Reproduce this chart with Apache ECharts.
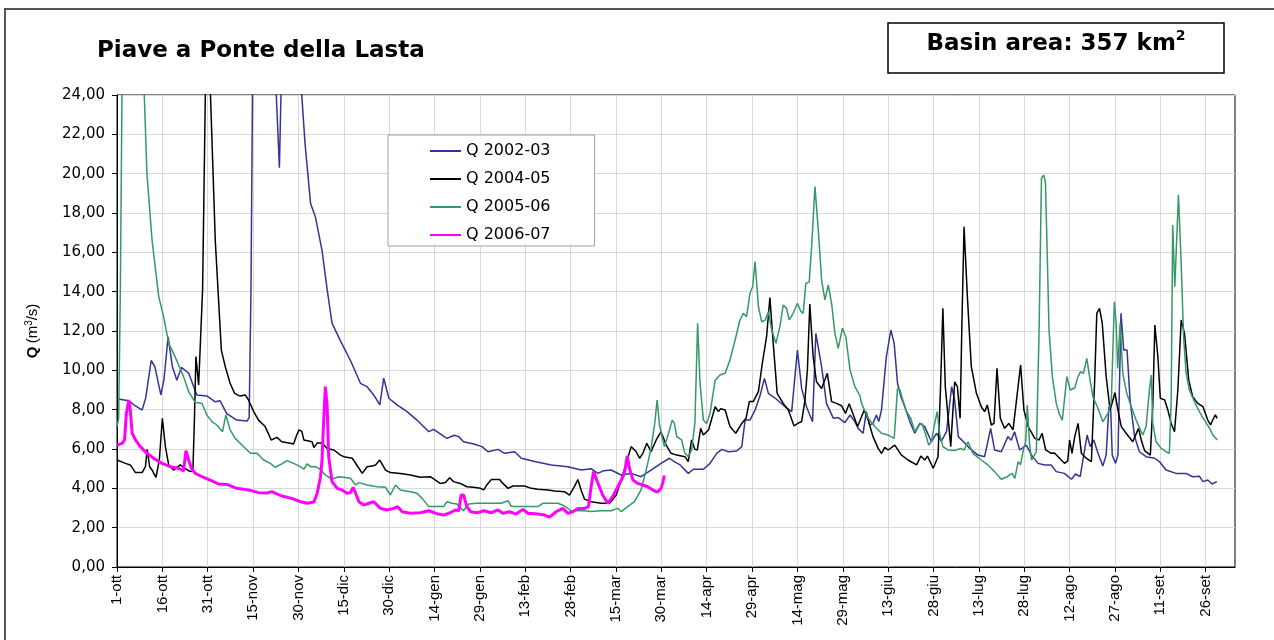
<!DOCTYPE html>
<html>
<head>
<meta charset="utf-8">
<title>Piave a Ponte della Lasta</title>
<script src="https://cdn.jsdelivr.net/npm/echarts@6/dist/echarts.min.js"></script>
<style>
  html, body { margin: 0; padding: 0; background: #fff; }
  #chart { width: 1274px; height: 640px; }
</style>
</head>
<body>
<div id="chart"></div>
<script>
// etichette asse x: una ogni 15 giorni a partire dal 1-ott (giorno 0)
const tickLabels = ['1-ott', '16-ott', '31-ott', '15-nov', '30-nov', '15-dic', '30-dic',
  '14-gen', '29-gen', '13-feb', '28-feb', '15-mar', '30-mar', '14-apr', '29-apr',
  '14-mag', '29-mag', '13-giu', '28-giu', '13-lug', '28-lug', '12-ago', '27-ago',
  '11-set', '26-set'];
const tickDays = tickLabels.map((_, i) => i * 15);
const seriesNames = ['Q 2002-03', 'Q 2004-05', 'Q 2005-06', 'Q 2006-07'];

// [giorno dal 1-ott, Q (m3/s)]
const q0203 = [[0,8.55],[3.9,8.45],[6,8.2],[8.3,7.98],[9.5,8.6],[11.3,10.5],[12.5,10.2],[14.5,8.75],[15.5,9.5],[16.9,11.7],[18.3,10.2],[19.8,9.5],[21.3,10.15],[23.7,9.85],[26.4,8.75],[29.7,8.7],[32.5,8.4],[34.1,8.45],[36.3,7.8],[39.6,7.47],[43,7.42],[43.7,7.6],[44.3,14],[44.9,26],[47,38],[50,32],[52.4,25],[53.7,20.3],[54.5,26],[57,32],[60,26],[61,24.2],[62.2,21.5],[64,18.5],[65.6,17.8],[67.8,16.1],[69.5,14.1],[71.1,12.4],[73.9,11.5],[77.2,10.5],[80.5,9.34],[82.7,9.17],[84.9,8.75],[86.9,8.24],[88.2,9.6],[89.9,8.58],[92.6,8.24],[95.9,7.9],[99.2,7.47],[103.1,6.88],[104.7,7.0],[109.1,6.54],[111.5,6.7],[113,6.63],[114.6,6.37],[118,6.25],[120.7,6.12],[122.7,5.86],[126,5.98],[128.2,5.78],[131.5,5.86],[133.7,5.53],[138.1,5.36],[143.6,5.19],[149.1,5.1],[153.5,4.93],[156.8,5.0],[159,4.76],[161,4.9],[163.4,4.93],[166.7,4.68],[170,4.76],[173.3,4.59],[176.6,4.93],[179.9,5.27],[182.7,5.53],[184.3,5.36],[186.2,5.19],[188.9,4.76],[190.6,4.97],[193.9,4.97],[196.1,5.27],[198.3,5.78],[200,5.98],[202.2,5.86],[204.9,5.9],[206.6,6.12],[207.7,7.47],[209.3,7.47],[211,7.98],[212.6,8.69],[214.1,9.59],[215.4,8.83],[218.1,8.53],[220.9,8.15],[223.1,7.9],[225,11.03],[226.4,9.08],[228,8.15],[230,7.39],[231.1,11.88],[233,10.19],[234.6,8.32],[236.9,7.56],[238.5,7.6],[240.7,7.34],[242.4,7.73],[244,7.39],[245.1,7.05],[246.7,6.8],[247.8,7.9],[248.9,7.22],[250,7.3],[251.1,7.73],[251.9,7.4],[252.8,7.98],[254.4,10.69],[255.9,12.05],[257,11.37],[258.1,9.34],[259.4,8.58],[260.5,8.15],[262.2,7.39],[263.8,6.8],[265.5,7.3],[267.1,7.14],[269.3,6.37],[271,6.8],[272.6,6.4],[274.3,6.88],[276,9.17],[277,8.49],[278.2,6.63],[280.4,6.29],[282,6.03],[284.7,5.69],[286.9,5.61],[288.9,7.05],[290.2,5.95],[292.4,5.86],[294.6,6.63],[295.7,6.45],[296.8,6.88],[298.5,5.95],[300.7,6.2],[302.4,5.69],[304.6,5.27],[306.8,5.19],[308.9,5.19],[310.6,4.85],[313.3,4.76],[315.6,4.46],[317,4.73],[318.5,4.6],[319.6,5.61],[320.8,6.71],[321.8,6.12],[323,6.46],[324.4,5.78],[326,5.14],[327.1,5.69],[328,8.15],[328.6,8.0],[329.1,5.7],[330.2,5.27],[331,5.7],[332,12.9],[332.9,11.03],[334,11.03],[335,8.49],[336.5,6.63],[338.1,5.86],[340.3,5.61],[343.1,5.53],[344.7,5.36],[346.9,4.93],[350.2,4.76],[353.5,4.76],[355.7,4.59],[357.9,4.62],[359.1,4.34],[360.7,4.42],[362.1,4.22],[363.7,4.34]];

const q0405 = [[0,5.44],[2.8,5.27],[4.4,5.19],[6.1,4.8],[8.3,4.8],[9.4,5.1],[10,5.98],[10.8,5.1],[11.6,4.93],[12.9,4.56],[14,5.44],[15,7.56],[16,6.12],[17.1,5.19],[18.7,4.93],[20.9,5.19],[22.6,5.0],[24.2,4.85],[25.1,4.9],[25.6,7.5],[26.1,10.7],[27,9.25],[28.3,14.1],[29.3,25],[30,32],[30.7,25],[32.5,16.6],[34.5,11.03],[35.8,10.19],[37.4,9.34],[38.9,8.83],[40.7,8.69],[42.4,8.75],[43.5,8.49],[45.2,7.9],[46.8,7.47],[49,7.14],[51,6.46],[52.9,6.59],[54.5,6.37],[57.3,6.29],[58.4,6.25],[59.4,6.7],[60.2,6.97],[61.1,6.9],[61.8,6.46],[64.5,6.37],[65.1,6.08],[66.2,6.3],[67.8,6.3],[69.5,6.03],[71.7,5.95],[73.9,5.69],[75,5.61],[77.8,5.53],[80,5.02],[81.1,4.76],[82.7,5.1],[84.4,5.13],[85.5,5.19],[86.9,5.44],[88.8,4.93],[90.4,4.8],[93.7,4.76],[97,4.68],[100.3,4.56],[103.6,4.59],[105.3,4.42],[106.9,4.25],[108.6,4.3],[110,4.54],[111.3,4.34],[113.5,4.25],[115.7,4.08],[117.9,4.05],[120.2,4.0],[121.3,3.92],[122.4,4.2],[123.8,4.45],[126.5,4.45],[127.6,4.25],[129.3,4.0],[130.9,4.12],[134.8,4.12],[137,4.0],[139.2,3.95],[142.5,3.92],[144.7,3.86],[148,3.83],[149.6,3.66],[151.3,4.1],[152.4,4.45],[153.5,3.9],[154.6,3.45],[156.8,3.32],[160.1,3.24],[162.9,3.24],[165.1,3.66],[166.7,4.42],[168.4,5.27],[170,6.12],[171.7,5.86],[172.8,5.53],[173.9,5.78],[175.2,6.29],[176.6,5.86],[178.3,6.46],[179.9,6.88],[181.6,6.2],[183.2,5.78],[185.1,5.69],[187.8,5.61],[188.9,5.36],[190,6.46],[191.1,5.98],[191.9,5.95],[193,7.05],[193.9,6.71],[195.6,6.97],[197.8,8.15],[198.9,7.9],[199.6,8.05],[201.1,7.98],[202.7,7.14],[204.6,6.8],[206.6,7.3],[208,7.56],[209.1,8.41],[210.4,8.41],[212.1,8.92],[213.4,10.36],[214.8,11.71],[215.9,13.7],[217,11.37],[218.3,8.83],[220.3,8.32],[222,7.98],[223.9,7.17],[225.1,7.3],[226.4,7.4],[227.5,8.49],[228.3,10.02],[229.1,13.37],[230.2,10.69],[231.3,9.42],[233,9.08],[234.9,9.85],[236.3,8.41],[237.9,8.32],[239.6,8.2],[240.9,7.81],[242.1,8.3],[243.5,7.73],[244.9,7.14],[247.1,7.98],[248.4,7.47],[250,6.63],[251.7,6.03],[252.8,5.78],[253.9,6.08],[255,5.95],[257.2,6.2],[259.4,5.69],[261.6,5.44],[264.4,5.19],[265.8,5.64],[267.1,5.44],[268,5.64],[269.9,5.02],[271.5,5.61],[272.3,9.0],[273.1,13.15],[273.9,9.17],[275.7,6.12],[277,9.42],[277.9,9.17],[278.8,7.56],[279.4,12.4],[280.1,17.3],[281.2,13.75],[282.5,10.19],[284.2,8.83],[285.8,8.15],[286.9,7.9],[287.8,8.24],[289.1,7.22],[290,7.3],[291,10.1],[292.1,7.56],[293.5,7.05],[294.9,7.3],[296.3,6.97],[297.9,9.08],[298.8,10.27],[299.9,7.98],[301.3,7.14],[303.5,6.54],[304.9,6.46],[305.9,6.8],[307.1,5.95],[308.9,5.78],[310,5.8],[311.7,5.53],[313.3,5.27],[314.4,5.4],[315,6.46],[315.8,5.78],[316.7,6.63],[317.8,7.3],[318.9,5.78],[320.5,5.53],[322.2,5.36],[323.3,9.5],[324,12.9],[324.9,13.15],[325.8,12.4],[327.1,9.68],[328.4,7.98],[330,8.86],[331,7.98],[332.1,7.14],[333.7,6.8],[335.9,6.37],[337.8,7.05],[338.7,6.46],[339.8,5.92],[341.7,5.69],[342.5,8.15],[343.2,12.3],[344.2,10.69],[345,8.58],[346.4,8.5],[347.5,7.98],[348.6,7.3],[349.7,6.88],[350.8,9.0],[351.9,12.56],[353,11.88],[354.4,9.5],[355.7,8.66],[357.4,8.32],[359.1,8.15],[360.7,7.47],[361.6,7.22],[362.4,7.5],[363.2,7.73],[363.8,7.56]];

const q0506 = [[0,7.14],[0.55,7.56],[1.1,14],[1.7,25],[3,40],[6,38],[8.8,25],[9.9,20.0],[11.6,16.6],[13.8,13.75],[15.4,12.73],[17.1,11.37],[18.7,10.86],[20.4,10.27],[22,9.68],[23.7,8.92],[25.9,8.36],[28.1,8.33],[29.7,7.73],[31.4,7.39],[33,7.22],[34.9,6.88],[36,7.73],[37.4,6.97],[39.1,6.54],[41.3,6.2],[44.1,5.78],[46.3,5.78],[48.5,5.44],[50.7,5.27],[52.3,5.07],[54.5,5.24],[56.2,5.41],[58.4,5.27],[60.6,5.1],[61.8,4.97],[62.9,5.24],[64,5.1],[65.6,5.1],[67.3,4.97],[68.9,4.68],[71.1,4.46],[73.3,4.59],[75,4.56],[77.2,4.51],[78.9,4.17],[80,4.29],[82.7,4.17],[86,4.08],[88.8,4.05],[90.4,3.66],[92.1,4.17],[93.7,3.92],[97,3.83],[99.2,3.75],[100.9,3.49],[103.1,3.07],[108,3.07],[109.1,3.32],[110.8,3.24],[112.4,3.2],[114.6,2.86],[116.3,3.2],[119.1,3.24],[127.1,3.24],[129.3,3.37],[130.4,3.07],[139.2,3.07],[140.8,3.24],[145.8,3.24],[148,3.1],[150.2,2.86],[154.6,2.86],[156.8,2.82],[160.1,2.86],[163.4,2.86],[165.6,2.98],[166.7,2.82],[168.9,3.07],[171.1,3.32],[173.3,3.92],[175,4.93],[176.6,6.03],[177.9,7.39],[178.6,8.49],[179.4,7.22],[181,6.12],[182.4,6.8],[183.6,7.47],[184.3,7.3],[185.1,6.63],[186.7,6.46],[187.8,5.78],[188.9,5.61],[190,5.95],[191.1,7.3],[192,12.39],[192.8,9.34],[193.9,7.47],[195,7.3],[196.1,7.81],[197.8,9.5],[199.4,9.76],[201.1,9.85],[202.7,10.53],[204.4,11.54],[206,12.56],[207.1,12.9],[208.2,12.73],[209.3,13.92],[210.2,14.25],[211,15.53],[212.1,13.24],[213.2,12.47],[214.3,12.55],[215.4,12.98],[216.5,12.05],[217.9,11.37],[219.2,12.22],[220.3,13.32],[221.4,13.15],[222.3,12.56],[223.6,12.9],[225,13.41],[226.1,13.0],[226.9,12.9],[227.8,14.42],[228.9,14.5],[229.7,16.29],[230.8,19.34],[231.9,17.14],[233,14.59],[234.1,13.58],[235.2,14.34],[236.3,13.41],[237.4,11.88],[238.5,11.12],[239.9,12.14],[241,11.71],[242.4,10.02],[244,9.17],[245.7,8.7],[246.2,8.32],[248.4,7.56],[250.6,7.14],[252.8,6.8],[255,6.71],[257,6.54],[258.1,9.08],[258.9,9.0],[260,8.41],[261.1,7.9],[262.5,7.56],[263.8,6.88],[265.1,7.22],[266.2,7.3],[267.3,6.8],[268.4,6.2],[269.3,6.37],[270.4,7.3],[271.2,7.9],[272.1,6.71],[273.1,6.12],[274.8,5.95],[277,5.92],[279,6.03],[280.1,5.95],[281.4,6.37],[283,5.78],[285.8,5.44],[288,5.19],[290.2,4.85],[292.4,4.46],[294.4,4.59],[295.2,4.68],[296,4.76],[296.9,4.51],[298,5.36],[298.8,5.2],[299.7,5.95],[300.5,6.4],[301,8.24],[301.7,6.4],[302.4,5.44],[304,5.85],[304.9,11.88],[305.7,19.76],[306.4,19.93],[307,19.6],[307.5,16.63],[308.2,12.05],[309.3,9.68],[310.6,8.32],[311.7,7.73],[312.6,7.47],[313.1,7.55],[314.1,9.68],[315.2,9.0],[316.7,9.1],[317.8,9.68],[318.6,9.93],[319.6,9.85],[320.7,10.61],[321.6,9.68],[322.7,8.66],[324.4,8.07],[326,7.39],[327.7,7.81],[328.8,8.41],[329.8,13.49],[330.4,12.39],[330.9,10.1],[331.7,12.39],[332.6,9.85],[333.9,8.83],[335.4,8.15],[337,7.47],[339.2,6.71],[340.3,7.14],[341.4,9.0],[342,9.76],[342.5,7.3],[343.6,6.37],[345.3,6.03],[346.9,5.86],[348,5.78],[348.6,8.5],[349.1,17.39],[349.8,14.25],[350.5,16.97],[351,18.92],[351.9,15.44],[352.7,11.71],[353.5,9.93],[354.6,9.0],[356.3,8.41],[357.9,7.9],[359.6,7.47],[361.3,7.05],[362.4,6.71],[363.8,6.46]];

const q0607 = [[0,6.2],[1.7,6.29],[2.5,6.46],[3.1,7.81],[3.9,8.49],[4.4,7.98],[5,6.8],[6.1,6.46],[7.7,6.12],[9.9,5.78],[12.1,5.53],[14.9,5.27],[17.6,5.1],[20.4,5.02],[22,4.88],[22.8,5.92],[23.7,5.44],[24.6,5.02],[25.9,4.76],[28.1,4.59],[30.8,4.42],[33.6,4.22],[36.3,4.2],[39.6,4.0],[43.5,3.92],[46.8,3.78],[49.6,3.76],[51.2,3.83],[52.3,3.76],[54.5,3.61],[57.8,3.49],[60.6,3.32],[62.9,3.24],[65.1,3.3],[66.2,3.75],[67.3,4.59],[67.8,5.44],[68.4,7.64],[68.9,9.17],[69.5,8.15],[70,5.61],[71.1,4.34],[72.8,4.0],[74.4,3.92],[76.1,3.75],[77.2,3.78],[78.1,4.05],[78.9,3.75],[80,3.32],[81.6,3.15],[83.3,3.24],[84.9,3.32],[87.1,2.98],[89.3,2.9],[91.5,2.98],[92.8,3.07],[94.3,2.81],[97,2.73],[100.3,2.76],[103.1,2.86],[105.8,2.71],[108,2.64],[110.2,2.76],[111.9,2.9],[113,2.86],[113.8,3.66],[114.6,3.66],[115.7,3.07],[116.9,2.81],[119.1,2.76],[121.3,2.86],[123.8,2.76],[126,2.9],[127.6,2.73],[129.8,2.81],[132,2.69],[134.2,2.93],[135.9,2.73],[139.2,2.69],[141.4,2.64],[143,2.53],[145.2,2.81],[147.4,2.98],[149.1,2.73],[150.7,2.81],[152.4,2.98],[154.6,2.98],[155.9,3.07],[156.8,4.1],[157.6,4.85],[158.7,4.4],[160.6,3.66],[162.3,3.24],[163.9,3.58],[165.6,4.08],[167.3,4.59],[168,4.93],[168.7,5.65],[169.5,5.0],[170.6,4.42],[172.2,4.25],[173.9,4.17],[175.5,4.08],[177.2,3.92],[178.6,3.8],[179.9,4.0],[180.5,4.3],[181,4.65]];

const FONT = 'DejaVu Sans';
const ARIAL = '"Liberation Sans", Arial, sans-serif';

const chart = echarts.init(document.getElementById('chart'));

function lineSeries(name, data, color, width) {
  return {
    name: name,
    type: 'line',
    data: data,
    symbol: 'none',
    showSymbol: false,
    clip: true,
    lineStyle: { color: color, width: width },
    itemStyle: { color: color },
    emphasis: { disabled: true },
    animation: false
  };
}

const option = {
  backgroundColor: '#fff',
  animation: false,
  title: {
    text: 'Piave a Ponte della Lasta',
    left: 97,
    top: 40,
    padding: 0,
    textStyle: { fontFamily: FONT, fontWeight: 'bold', fontSize: 23, color: '#000' }
  },
  graphic: [
    {
      type: 'rect',
      silent: true,
      shape: { x: 5, y: 9, width: 1300, height: 700 },
      style: { fill: 'none', stroke: '#555', lineWidth: 2 }
    },
    {
      type: 'rect',
      silent: true,
      shape: { x: 888, y: 23, width: 336, height: 50 },
      style: { fill: '#fff', stroke: '#000', lineWidth: 1.5 }
    },
    {
      type: 'text',
      silent: true,
      style: {
        x: 1056,
        y: 44,
        align: 'center',
        verticalAlign: 'middle',
        text: '{b|Basin area: 357 km}{s|2}',
        rich: {
          b: { fontFamily: FONT, fontWeight: 'bold', fontSize: 23, lineHeight: 30, fill: '#000' },
          s: { fontFamily: FONT, fontWeight: 'bold', fontSize: 14, lineHeight: 14, verticalAlign: 'top', fill: '#000' }
        }
      }
    }
  ],
  legend: {
    data: seriesNames,
    orient: 'vertical',
    left: 388,
    top: 135,
    itemWidth: 31,
    itemHeight: 14,
    itemGap: 12,
    padding: [8, 44, 3, 41],
    borderColor: '#a0a0a0',
    borderWidth: 1,
    backgroundColor: '#fff',
    selectedMode: false,
    // solo la linea, senza il simbolo in mezzo
    itemStyle: { opacity: 0 },
    textStyle: { fontFamily: FONT, fontSize: 16, color: '#000' }
  },
  grid: {
    left: 117,
    top: 95,
    right: 39,
    bottom: 73,
    show: true,
    borderColor: '#000',
    borderWidth: 1,
    backgroundColor: '#fff',
    containLabel: false,
    outerBoundsMode: 'none'
  },
  xAxis: {
    type: 'value',
    min: 0,
    max: 369.7,
    interval: 15,
    axisLine: { show: true, onZero: false, lineStyle: { color: '#000', width: 1 } },
    axisTick: { show: true, inside: false, length: 5, customValues: tickDays, lineStyle: { color: '#000' } },
    splitLine: { show: true, lineStyle: { color: '#d9d9d9', width: 1 } },
    axisLabel: {
      rotate: 90,
      margin: 8,
      fontFamily: ARIAL,
      fontSize: 15,
      color: '#000',
      customValues: tickDays,
      formatter: function (v) {
        const i = Math.round(v / 15);
        return Math.abs(v - i * 15) < 1e-6 && i < tickLabels.length ? tickLabels[i] : '';
      }
    }
  },
  yAxis: {
    type: 'value',
    min: 0,
    max: 24,
    interval: 2,
    name: '{q|Q} {n|(m}{s|3}{n|/s)}',
    nameLocation: 'middle',
    nameGap: 75,
    nameRotate: 90,
    nameTextStyle: {
      rich: {
        q: { fontFamily: ARIAL, fontWeight: 'bold', fontSize: 15, lineHeight: 18, color: '#000' },
        n: { fontFamily: ARIAL, fontSize: 15, lineHeight: 18, color: '#000' },
        s: { fontFamily: ARIAL, fontSize: 10, lineHeight: 10, verticalAlign: 'top', color: '#000' }
      }
    },
    axisLine: { show: true, lineStyle: { color: '#000', width: 1 } },
    axisTick: { show: true, inside: false, length: 5, lineStyle: { color: '#000' } },
    splitLine: { show: true, lineStyle: { color: '#d9d9d9', width: 1 } },
    axisLabel: {
      margin: 12,
      fontFamily: FONT,
      fontSize: 15,
      color: '#000',
      formatter: function (v) { return v.toFixed(2).replace('.', ','); }
    }
  },
  series: [
    lineSeries(seriesNames[0], q0203, '#333399', 1.5),
    lineSeries(seriesNames[1], q0405, '#000000', 1.5),
    lineSeries(seriesNames[2], q0506, '#339966', 1.5),
    lineSeries(seriesNames[3], q0607, '#ff00ff', 3)
  ]
};

chart.setOption(option);
</script>
</body>
</html>
